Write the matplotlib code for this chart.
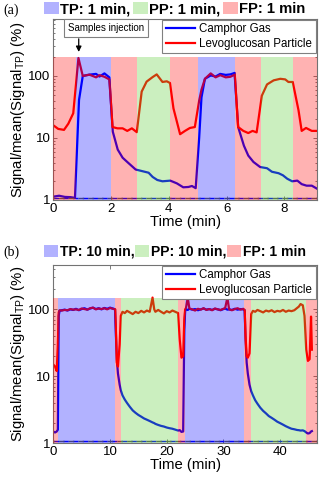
import matplotlib
matplotlib.use('Agg')
import matplotlib.pyplot as plt
from matplotlib.patches import Patch
from matplotlib.ticker import FixedLocator, FixedFormatter, LogLocator, NullFormatter

plt.rcParams['font.family'] = ['Liberation Sans', 'DejaVu Sans']
plt.rcParams['mathtext.fontset'] = 'custom'
plt.rcParams['mathtext.rm'] = 'Liberation Sans'
plt.rcParams['mathtext.it'] = 'Liberation Sans:italic'

# ---------- panel (a): 1 min periods ----------
ta_camphor = [0.0, 0.2, 0.4, 0.6, 0.75, 0.89, 1.02, 1.25, 1.48, 1.6, 1.77, 1.94,
              2.06, 2.23, 2.4, 2.56, 2.85, 3.1, 3.3, 3.44, 3.6, 3.78,
              4.05, 4.28, 4.5, 4.68, 4.8, 4.93,
              5.05, 5.13, 5.25, 5.45, 5.62, 5.78, 5.97, 6.13, 6.28,
              6.4, 6.6, 6.75, 6.93, 7.16, 7.4, 7.57, 7.8, 7.95, 8.1, 8.27, 8.45, 8.6, 8.77, 8.95, 9.13]
camphor_a = [1.13, 1.17, 1.12, 1.11, 1.08, 41, 100, 105, 108, 98, 110, 95,
             12.6, 6.5, 4.8, 4.1, 3.1, 2.9, 2.75, 2.35, 2.1, 2.0,
             2.05, 1.85, 1.6, 1.62, 1.68, 1.55,
             10, 45, 90, 102, 98, 108, 104, 106, 112,
             15, 7.5, 5.2, 4.1, 3.4, 3.25, 2.85, 2.7, 2.5, 2.2, 2.0, 2.05, 1.8, 1.7, 1.7, 1.52]

ta_levo = [0.0, 0.17, 0.37, 0.52, 0.69, 0.87, 1.02, 1.25, 1.48, 1.6, 1.77, 1.94,
           2.05, 2.22, 2.4, 2.56, 2.72, 2.89, 3.06, 3.23, 3.44, 3.58, 3.78, 3.93, 4.04,
           4.16, 4.39, 4.56, 4.73, 4.9, 5.05, 5.13, 5.25, 5.45, 5.62, 5.78, 5.97, 6.13, 6.28,
           6.4, 6.58, 6.75, 6.9, 7.04, 7.22, 7.4, 7.63, 7.86, 8.03, 8.14, 8.29,
           8.49, 8.6, 8.75, 8.95, 9.13]
levo_a = [16, 14, 13.5, 17, 25, 195, 100, 105, 95, 103, 97, 88,
          15, 14.3, 14.3, 13, 14.3, 12.4, 56, 81, 96, 106, 80, 82, 77,
          30, 11.5, 13, 14.5, 15, 40, 60, 90, 110, 95, 103, 95, 97, 105,
          15, 13, 12, 13, 12.3, 48, 73, 85, 90, 88, 80, 80,
          28, 13, 14.5, 13, 13]

phases_a = [0, 0.79, 2.0, 2.91, 4.04, 5.02, 6.3, 7.18, 8.29, 9.13]
phase_kind_a = ['FP', 'TP', 'FP', 'PP', 'FP', 'TP', 'FP', 'PP', 'FP']

# ---------- panel (b): 10 min periods ----------
t_b = [0.0, 0.3, 0.6, 0.8, 0.95, 1.1, 1.5, 2.0, 2.5, 3.0, 3.5, 4.0, 4.5, 5.0, 5.5, 6.0,
       6.5, 7.0, 7.5, 8.0, 8.5, 9.0, 9.5, 10.0, 10.5, 10.9,
       11.05, 11.2, 11.4, 11.7, 11.9, 12.2, 12.6, 13.0, 13.5, 14.0, 14.5, 15.0, 15.5, 16.0,
       16.5, 17.0, 17.5, 17.8, 18.0, 18.5, 19.0, 19.5, 20.0, 20.5, 21.0, 21.5, 22.0, 22.3, 22.6, 22.9,
       23.1, 23.25, 23.4, 23.7, 24.0, 24.5, 25.0, 25.5, 26.0, 26.5, 27.0, 27.5, 28.0, 28.5,
       29.0, 29.5, 30.0, 30.3, 30.7, 31.0, 31.5, 32.0, 32.5, 33.0, 33.5, 33.75,
       33.9, 34.1, 34.3, 34.6, 34.9, 35.2, 35.6, 36.0, 36.5, 37.0, 37.5, 38.0, 38.5, 39.0,
       39.5, 40.0, 40.5, 41.0, 41.5, 42.0, 42.5, 43.0, 43.3, 43.6, 44.0, 44.3, 44.6, 44.9,
       45.2, 45.45, 45.6]
camphor_b = [1.5, 1.45, 1.5, 1.6, 80, 95, 97, 99, 96, 100, 98, 102, 97, 101, 104, 99,
             103, 106, 101, 104, 100, 105, 102, 106, 103, 100,
             40, 18, 11, 7.5, 6.2, 5.2, 4.5, 4.0, 3.5, 3.1, 2.85, 2.65, 2.5, 2.35,
             2.25, 2.15, 2.05, 2.0, 1.95, 1.88, 1.82, 1.78, 1.72, 1.68, 1.65, 1.6, 1.55, 1.57, 1.48, 1.5,
             50, 95, 100, 98, 102, 99, 101, 97, 100, 103, 99, 101, 98, 102,
             100, 97, 101, 103, 99, 100, 98, 102, 99, 101, 100, 98,
             35, 16, 11, 7.5, 6.0, 5.2, 4.4, 3.9, 3.4, 3.05, 2.8, 2.55, 2.4, 2.25,
             2.1, 2.0, 1.9, 1.8, 1.72, 1.65, 1.62, 1.58, 1.57, 1.55, 1.56, 1.52, 1.45, 1.4,
             1.42, 1.5, 1.52]
levo_b = [15, 14, 12, 30, 90, 97, 96, 98, 97, 101, 99, 100, 98, 103, 101, 99,
          104, 106, 100, 103, 101, 104, 100, 105, 102, 100,
          45, 16, 14, 30, 80, 92, 88, 95, 90, 85, 92, 88, 95, 90,
          96, 92, 150, 100, 92, 98, 92, 87, 94, 90, 96, 92, 88, 35, 19, 20,
          70, 100, 105, 150, 103, 100, 96, 102, 99, 104, 98, 101, 97, 103,
          100, 98, 102, 104, 150, 100, 97, 101, 104, 99, 102, 95,
          40, 20, 19, 22, 85, 95, 92, 98, 94, 90, 96, 93, 97, 91,
          95, 93, 98, 92, 96, 94, 97, 105, 110, 120, 115, 80, 25, 17,
          18, 78, 25]

phases_b = [0, 0.9, 10.95, 11.95, 22.0, 23.2, 33.7, 34.8, 44.6, 46.5]
phase_kind_b = ['FP', 'TP', 'FP', 'PP', 'FP', 'TP', 'FP', 'PP', 'FP']

lod = 1.07
shade_colors = {'TP': (0.0, 0.0, 1.0), 'PP': (0.33, 0.8, 0.17), 'FP': (1.0, 0.0, 0.0)}


def draw_panel(ax, tc, yc, tl, yl, phases, kinds, shade_top, xmax, ymax, xticks):
    ax.plot(tc, yc, color='blue', lw=1.6, zorder=2, label='Camphor Gas')
    ax.plot(tl, yl, color='red', lw=1.6, zorder=2, label='Levoglucosan Particle')
    ax.plot([0, xmax], [lod, lod], color='blue', lw=1.0, ls=(0, (4, 3)), zorder=2)
    ax.plot([0, xmax], [lod, lod], color='0.35', lw=1.0, ls=(3, (4, 3)), zorder=2)
    for x0, x1, k in zip(phases[:-1], phases[1:], kinds):
        ax.fill_between([x0, x1], 1, shade_top, color=shade_colors[k], alpha=0.3,
                        lw=0, zorder=3)
    ax.set_yscale('log')
    ax.set_xlim(0, xmax)
    ax.set_ylim(1, ymax)
    ax.set_xticks(xticks)
    ax.yaxis.set_major_locator(FixedLocator([1, 10, 100]))
    ax.yaxis.set_major_formatter(FixedFormatter(['1', '10', '100']))
    ax.yaxis.set_minor_locator(LogLocator(base=10, subs=range(2, 10)))
    ax.yaxis.set_minor_formatter(NullFormatter())
    ax.tick_params(which='both', direction='in', top=True, right=True,
                   labelsize=9.5, color='0.4', width=0.6, pad=2)
    ax.tick_params(which='major', length=3)
    ax.tick_params(which='minor', length=1.5)
    for s in ax.spines.values():
        s.set_color('0.45')
        s.set_linewidth(0.8)
    ax.set_xlabel('Time (min)', fontsize=10.7, labelpad=0)
    ax.set_ylabel('Signal/mean(Signal$_{\\mathrm{TP}}$) (%)', fontsize=10.7, labelpad=1)
    leg = ax.legend(loc='upper right', bbox_to_anchor=(0.995, 0.997), borderaxespad=0,
                    fontsize=8.3, handlelength=2.5, handletextpad=0.4, labelspacing=0.25,
                    borderpad=0.3, fancybox=False, framealpha=1, edgecolor='0.5')
    leg.get_frame().set_linewidth(0.8)
    leg.set_zorder(6)


def header(fig, y, labels, size, colsp):
    handles = [Patch(facecolor=shade_colors[k], alpha=0.3, edgecolor='none')
               for k in ['TP', 'PP', 'FP']]
    fig.legend(handles=handles, labels=labels, loc='upper left',
               bbox_to_anchor=(44 / 320, y), ncol=3, frameon=False,
               prop={'weight': 'bold', 'size': size}, handlelength=1.0, handleheight=0.9,
               handletextpad=0.12, columnspacing=colsp, borderpad=0, borderaxespad=0)


fig = plt.figure(figsize=(3.2, 4.83), dpi=100)
ax_a = fig.add_axes([0.1666, 0.586, 0.824, 0.3747])
ax_b = fig.add_axes([0.1666, 0.0822, 0.824, 0.3692])

draw_panel(ax_a, ta_camphor, camphor_a, ta_levo, levo_a, phases_a, phase_kind_a,
           200, 9.13, 830, [0, 2, 4, 6, 8])
draw_panel(ax_b, t_b, camphor_b, t_b, levo_b, phases_b, phase_kind_b,
           150, 46.5, 460, [0, 10, 20, 30, 40])

# sample injection marker
ax_a.text(1.83, 590, 'Samples injection', fontsize=7, ha='center', va='center', zorder=6,
          bbox=dict(boxstyle='square,pad=0.4', facecolor='white', edgecolor='0.5', lw=0.8))
ax_a.annotate('', xy=(0.88, 220), xytext=(0.88, 440), zorder=6,
              arrowprops=dict(arrowstyle='-|>', color='black', lw=0.9, mutation_scale=8))

header(fig, 1 - 2 / 483, ['TP: 1 min,', 'PP: 1 min,', 'FP: 1 min'], 10.6, 0.15)
header(fig, 1 - 245 / 483, ['TP: 10 min,', 'PP: 10 min,', 'FP: 1 min'], 10.1, 0.05)

fig.text(3 / 320, 1 - 10 / 483, '(a)', family='Liberation Serif', fontsize=10, va='center')
fig.text(3 / 320, 1 - 252 / 483, '(b)', family='Liberation Serif', fontsize=10, va='center')

fig.savefig('out.png', dpi=100)
